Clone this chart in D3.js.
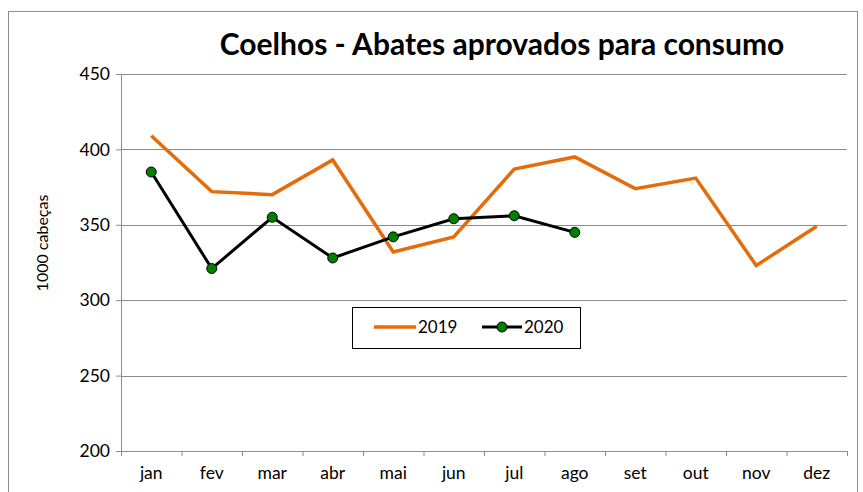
<!DOCTYPE html>
<html>
<head>
<meta charset="utf-8">
<script src="https://cdn.jsdelivr.net/npm/d3@7"></script>
<style>
  body { margin: 0; background: #fff; }
  svg { display: block; font-family: Lato, "Open Sans", sans-serif; }
</style>
</head>
<body>
<svg id="chart"></svg>
<script>
const months = ["jan", "fev", "mar", "abr", "mai", "jun", "jul", "ago", "set", "out", "nov", "dez"];
const values2019 = [409, 372, 370, 393, 332, 342, 387, 395, 374, 381, 323, 349];
const values2020 = [385, 321, 355, 328, 342, 354, 356, 345];
const yTicks = [200, 250, 300, 350, 400, 450];

const W = 863, H = 492;
const margin = { top: 74, right: 16, bottom: 41, left: 121 };
const width = W - margin.left - margin.right;
const height = H - margin.top - margin.bottom;

const svg = d3.select("#chart").attr("width", W).attr("height", H);

// outer chart frame
svg.append("rect")
    .attr("x", 8.5).attr("y", 11.5)
    .attr("width", 849).attr("height", 500)
    .attr("fill", "none")
    .attr("stroke", "#8c8c8c");

const g = svg.append("g").attr("transform", `translate(${margin.left},${margin.top})`);

const x = d3.scaleBand().domain(months).range([0, width]);
const y = d3.scaleLinear().domain([200, 450]).range([height, 0]);

// grid
g.selectAll(".grid")
    .data(yTicks.filter(d => d > 200))
    .join("line")
    .attr("x1", 0).attr("x2", width)
    .attr("y1", d => Math.round(y(d)) + 0.5).attr("y2", d => Math.round(y(d)) + 0.5)
    .attr("stroke", "#8c8c8c");

// axes
const yAxis = g.append("g")
    .call(d3.axisLeft(y).tickValues(yTicks).tickSize(5).tickPadding(6));
const xAxis = g.append("g")
    .attr("transform", `translate(0,${height})`)
    .call(d3.axisBottom(x).tickSize(0).tickPadding(16));

[yAxis, xAxis].forEach(a => {
    a.select(".domain").attr("stroke", "#8c8c8c");
    a.selectAll(".tick line").attr("stroke", "#8c8c8c");
    a.selectAll("text").attr("fill", "#000").style("font-size", "17.5px").style("font-family", "Lato, sans-serif");
});
yAxis.select(".domain").attr("d", `M0.5,0V${height}`);
xAxis.select(".domain").attr("d", `M0,0.5H${width}`);

// x tick marks at category boundaries
g.selectAll(".xtick")
    .data(d3.range(months.length + 1))
    .join("line")
    .attr("x1", i => i * x.step() + 0.5).attr("x2", i => i * x.step() + 0.5)
    .attr("y1", height).attr("y2", height + 5)
    .attr("stroke", "#8c8c8c");

const cx = d => x(d) + x.bandwidth() / 2;

const line = d3.line()
    .x((d, i) => cx(months[i]))
    .y(d => y(d));

g.append("path")
    .datum(values2019)
    .attr("d", line)
    .attr("fill", "none")
    .attr("stroke", "#e46c0a")
    .attr("stroke-width", 3.5);

g.append("path")
    .datum(values2020)
    .attr("d", line)
    .attr("fill", "none")
    .attr("stroke", "#000")
    .attr("stroke-width", 3);

g.selectAll(".pt")
    .data(values2020)
    .join("circle")
    .attr("cx", (d, i) => cx(months[i]))
    .attr("cy", d => y(d))
    .attr("r", 5)
    .attr("fill", "#008000")
    .attr("stroke", "#000")
    .attr("stroke-width", 1);

// title
svg.append("text")
    .attr("x", 502).attr("y", 55)
    .attr("text-anchor", "middle")
    .style("font-size", "30px")
    .style("font-weight", "bold")
    .attr("fill", "#000")
    .text("Coelhos - Abates aprovados para consumo");

// y label
svg.append("text")
    .attr("transform", "translate(48,243) rotate(-90)")
    .attr("text-anchor", "middle")
    .style("font-size", "16px")
    .attr("fill", "#000")
    .text("1000 cabeças");

// legend
const lg = svg.append("g");
lg.append("rect")
    .attr("x", 352.5).attr("y", 307.5)
    .attr("width", 228).attr("height", 41)
    .attr("fill", "#fff")
    .attr("stroke", "#000");
lg.append("line")
    .attr("x1", 374).attr("x2", 416).attr("y1", 327).attr("y2", 327)
    .attr("stroke", "#e46c0a").attr("stroke-width", 3.5);
lg.append("text")
    .attr("x", 418).attr("y", 333)
    .style("font-size", "17px").text("2019");
lg.append("line")
    .attr("x1", 482).attr("x2", 522).attr("y1", 327).attr("y2", 327)
    .attr("stroke", "#000").attr("stroke-width", 3);
lg.append("circle")
    .attr("cx", 502).attr("cy", 327).attr("r", 5)
    .attr("fill", "#008000").attr("stroke", "#000");
lg.append("text")
    .attr("x", 524).attr("y", 333)
    .style("font-size", "17px").text("2020");
</script>
</body>
</html>
